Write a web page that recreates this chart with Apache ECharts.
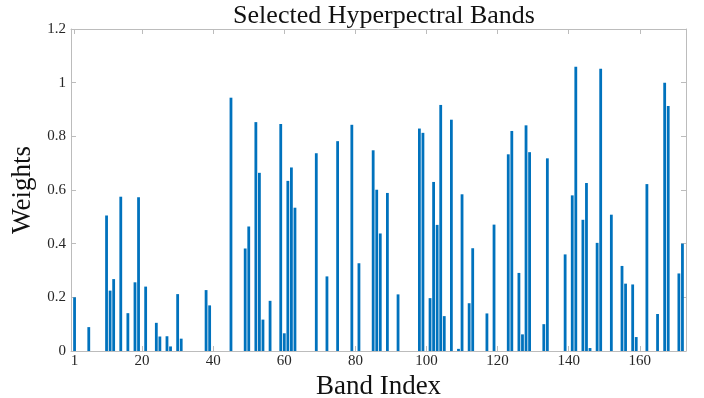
<!DOCTYPE html>
<html lang="en" style="height: 100%">

<head>
  <meta charset="UTF-8" />
  <title>Selected Hyperpectral Bands</title>
  <script src="https://cdn.jsdelivr.net/npm/echarts@6/dist/echarts.min.js"></script>
</head>

<body style="height: 100%; margin: 0; background: #fff">
  <div id="main" style="width: 704px; height: 398px"></div>
  <script type="text/javascript">
    // selected band indices and their weights
    var bandIndex = [1, 5, 10, 11, 12, 14, 16, 18, 19, 21, 24, 25, 27, 28, 30, 31, 38, 39,
      45, 49, 50, 52, 53, 54, 56, 59, 60, 61, 62, 63, 69, 72, 75, 79, 81,
      85, 86, 87, 89, 92, 98, 99, 101, 102, 103, 104, 105, 107, 109, 110, 112, 113, 117, 119,
      123, 124, 126, 127, 128, 129, 133, 134, 139, 141, 142, 144, 145, 146, 148, 149,
      152, 155, 156, 158, 159, 162, 165, 167, 168, 171, 172];
    var weights = [0.20, 0.089, 0.505, 0.225, 0.268, 0.575, 0.141, 0.256, 0.573, 0.24, 0.105, 0.054, 0.055, 0.017, 0.212, 0.046, 0.227, 0.17,
      0.944, 0.382, 0.464, 0.853, 0.664, 0.117, 0.187, 0.846, 0.066, 0.634, 0.684, 0.534, 0.737, 0.278, 0.782, 0.843, 0.327,
      0.748, 0.601, 0.438, 0.589, 0.211, 0.829, 0.813, 0.197, 0.63, 0.47, 0.917, 0.13, 0.862, 0.008, 0.584, 0.178, 0.383, 0.14, 0.471,
      0.733, 0.82, 0.291, 0.062, 0.841, 0.741, 0.1, 0.718, 0.36, 0.58, 1.059, 0.489, 0.626, 0.011, 0.403, 1.052,
      0.508, 0.317, 0.251, 0.248, 0.052, 0.622, 0.138, 1.0, 0.913, 0.289, 0.40];
    var xTicks = [1, 20, 40, 60, 80, 100, 120, 140, 160];

    var barData = [];
    for (var i = 0; i < bandIndex.length; i++) {
      barData.push([bandIndex[i], weights[i]]);
    }

    var myChart = echarts.init(document.getElementById("main"));

    var font = "'Liberation Serif', 'DejaVu Serif', serif";
    var boxColor = "#bcbcbc";
    var txtColor = "#262626";

    var option = {
      animation: false,
      title: {
        text: "Selected Hyperpectral Bands",
        left: 379,
        textAlign: "center",
        top: -2,
        textStyle: { fontFamily: font, fontWeight: "normal", fontSize: 26, color: "#111" }
      },
      grid: { left: 71, right: 18, top: 29, bottom: 47, containLabel: false, outerBoundsMode: "none" },
      xAxis: [
        {
          type: "value",
          min: 0,
          max: 173,
          position: "bottom",
          name: "Band Index",
          nameLocation: "middle",
          nameGap: 17,
          nameTextStyle: { fontFamily: font, fontSize: 27, color: "#111" },
          axisLine: { show: true, onZero: false, lineStyle: { color: boxColor } },
          axisTick: { inside: true, length: 5, customValues: xTicks, lineStyle: { color: boxColor } },
          axisLabel: { customValues: xTicks, fontFamily: font, fontSize: 15, color: txtColor, margin: 3 },
          splitLine: { show: false }
        },
        {
          type: "value",
          min: 0,
          max: 173,
          position: "top",
          axisLine: { show: true, onZero: false, lineStyle: { color: boxColor } },
          axisTick: { inside: true, length: 5, customValues: xTicks, lineStyle: { color: boxColor } },
          axisLabel: { show: false },
          splitLine: { show: false }
        }
      ],
      yAxis: [
        {
          type: "value",
          min: 0,
          max: 1.2,
          interval: 0.2,
          position: "left",
          name: "Weights",
          nameLocation: "middle",
          nameGap: 28,
          nameTextStyle: { fontFamily: font, fontSize: 27, color: "#111" },
          axisLine: { show: true, onZero: false, lineStyle: { color: boxColor } },
          axisTick: { show: true, inside: true, length: 5, lineStyle: { color: boxColor } },
          axisLabel: { fontFamily: font, fontSize: 15, color: txtColor, margin: 5 },
          splitLine: { show: false }
        },
        {
          type: "value",
          min: 0,
          max: 1.2,
          interval: 0.2,
          position: "right",
          axisLine: { show: true, onZero: false, lineStyle: { color: boxColor } },
          axisTick: { show: true, inside: true, length: 5, lineStyle: { color: boxColor } },
          axisLabel: { show: false },
          splitLine: { show: false }
        }
      ],
      series: [
        {
          type: "bar",
          xAxisIndex: 0,
          yAxisIndex: 0,
          data: barData,
          barWidth: 2.8,
          itemStyle: { color: "#0072BD" }
        }
      ]
    };

    myChart.setOption(option);
    window.addEventListener('resize', myChart.resize);
  </script>
</body>

</html>
